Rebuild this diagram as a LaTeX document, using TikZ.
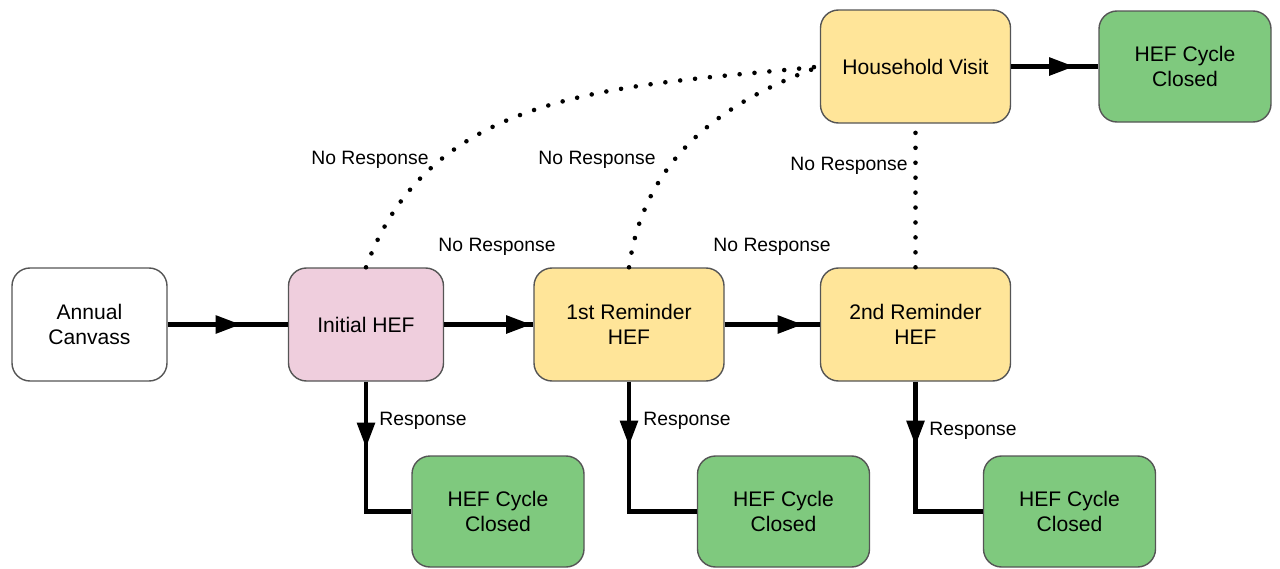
\documentclass[tikz,border=0pt]{standalone}
\usepackage{fontspec}
\setmainfont{Liberation Sans}
\usetikzlibrary{arrows.meta,decorations.markings}
\definecolor{hefpink}{HTML}{EFCEDD}
\definecolor{hefyellow}{HTML}{FFE599}
\definecolor{hefgreen}{HTML}{7FC97E}
\definecolor{hefedge}{HTML}{555555}
\begin{document}
\begin{tikzpicture}[
    stage/.style={draw=hefedge, line width=0.8pt, rounded corners=0.36cm, align=center,
        font=\fontsize{12}{14.2}\selectfont, minimum height=2.26cm, inner sep=2pt},
    plainbox/.style={stage, fill=white, minimum width=3.1cm},
    reminder/.style={stage, fill=hefyellow, minimum width=3.8cm},
    closed/.style={stage, fill=hefgreen, minimum width=3.44cm, minimum height=2.22cm},
    flow/.style={line width=2.3pt, postaction={decorate}, decoration={markings,
        mark=at position #1 with {\arrow{Triangle[length=5mm,width=3.5mm]}}}},
    noresp/.style={line width=2.6pt, line cap=round, dash pattern=on 0pt off 8.5pt},
    tag/.style={font=\fontsize{11}{13}\selectfont, inner sep=1pt}
    ]
    \useasboundingbox (0,0) rectangle (25.6,11.36);
    % boxes
    \node[plainbox] (canvass) at (1.79,4.87) {Annual\\Canvass};
    \node[stage, fill=hefpink, minimum width=3.1cm] (initial) at (7.32,4.87) {Initial HEF};
    \node[reminder] (remindA) at (12.58,4.87) {1st Reminder\\HEF};
    \node[reminder] (remindB) at (18.31,4.87) {2nd Reminder\\HEF};
    \node[reminder] (visit) at (18.31,10.03) {Household Visit};
    \node[closed] (closedTop) at (23.70,10.03) {HEF Cycle\\Closed};
    \node[closed] (closedA) at (9.96,1.13) {HEF Cycle\\Closed};
    \node[closed] (closedB) at (15.67,1.13) {HEF Cycle\\Closed};
    \node[closed] (closedC) at (21.39,1.13) {HEF Cycle\\Closed};
    % main line
    \draw[flow=1.46cm] (canvass) -- (initial);
    \draw[flow=1.74cm] (initial) -- (remindA);
    \draw[flow=1.56cm] (remindA) -- (remindB);
    \draw[flow=1.26cm] (visit) -- (closedTop);
    % responses
    \draw[flow=1.32cm] (initial.south) |- (closedA.west);
    \draw[flow=1.28cm] (remindA.south) |- (closedB.west);
    \draw[flow=1.28cm] (remindB.south) |- (closedC.west);
    % no response to the visit
    \draw[noresp] (initial.north) to[out=70,in=186] (visit.west);
    \draw[noresp] (remindA.north) to[out=82,in=200] (visit.west);
    \draw[noresp] (remindB.north) -- (visit.south);
    % labels
    \node[tag] (tagA) at (7.40,8.16) {No Response};
    \node[tag] (tagB) at (11.94,8.16) {No Response};
    \node[tag] (tagC) at (16.98,8.04) {No Response};
    \node[tag] (tagD) at (9.94,6.42) {No Response};
    \node[tag] (tagE) at (15.44,6.42) {No Response};
    \node[tag] (tagF) at (8.46,2.94) {Response};
    \node[tag] (tagG) at (13.74,2.94) {Response};
    \node[tag] (tagH) at (19.46,2.74) {Response};
\end{tikzpicture}
\end{document}
